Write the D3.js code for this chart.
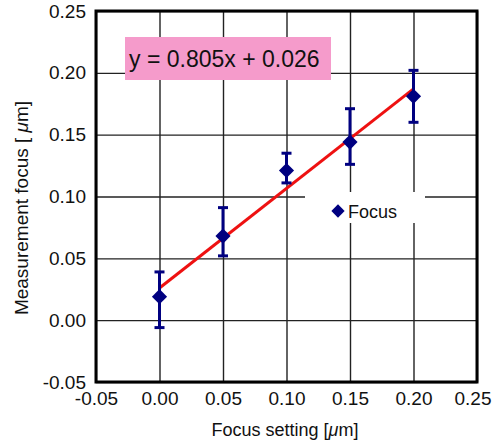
<!DOCTYPE html>
<html>
<head>
<meta charset="utf-8">
<script src="https://cdn.jsdelivr.net/npm/d3@7"></script>
<style>
  body { margin: 0; background: #fff; }
  text { font-family: "Liberation Sans", Arial, sans-serif; fill: #111; }
</style>
</head>
<body>
<svg id="chart" width="492" height="447"></svg>
<script>
// data
const focusSetting = [0.00, 0.05, 0.10, 0.15, 0.20];
const measured = [0.019, 0.068, 0.121, 0.144, 0.181];
const errTop = [0.039, 0.091, 0.135, 0.171, 0.202];
const errBottom = [-0.006, 0.052, 0.111, 0.126, 0.160];
const fitX = [0.00, 0.20];
const slope = 0.805, intercept = 0.026;
const tickValues = [-0.05, 0.00, 0.05, 0.10, 0.15, 0.20, 0.25];
const tickLabels = ['-0.05', '0.00', '0.05', '0.10', '0.15', '0.20', '0.25'];

const width = 492, height = 447;
const margins = {left: 96, right: 15, top: 11, bottom: 65};

const vis = d3.select('#chart');
vis.append('rect').attr('width', width).attr('height', height).attr('fill', '#fff');

const xScale = d3.scaleLinear()
  .domain([-0.05, 0.25])
  .range([margins.left, width - margins.right]);
const yScale = d3.scaleLinear()
  .domain([-0.05, 0.25])
  .range([height - margins.bottom, margins.top]);

const labelOf = v => tickLabels[tickValues.findIndex(t => Math.abs(t - v) < 1e-9)];
// diamond = square turned 45 degrees
const diamond = area => d3.symbol(d3.symbolSquare, area)();

// gridlines
vis.append('g')
  .attr('class', 'grid')
  .attr('transform', 'translate(0,' + (height - margins.bottom) + ')')
  .call(d3.axisBottom(xScale)
    .tickValues(tickValues)
    .tickSize(-(height - margins.bottom - margins.top))
    .tickFormat('')
    .tickSizeOuter(0));
vis.append('g')
  .attr('class', 'grid')
  .attr('transform', 'translate(' + margins.left + ',0)')
  .call(d3.axisLeft(yScale)
    .tickValues(tickValues)
    .tickSize(-(width - margins.left - margins.right))
    .tickFormat('')
    .tickSizeOuter(0));
vis.selectAll('.grid path').remove();
vis.selectAll('.grid line').attr('stroke', '#222').attr('stroke-width', 1.4);

// tick labels
const xAxis = vis.append('g')
  .attr('transform', 'translate(0,' + (height - margins.bottom) + ')')
  .call(d3.axisBottom(xScale).tickValues(tickValues).tickFormat(labelOf).tickSize(0).tickPadding(10));
const yAxis = vis.append('g')
  .attr('transform', 'translate(' + margins.left + ',0)')
  .call(d3.axisLeft(yScale).tickValues(tickValues).tickFormat(labelOf).tickSize(0).tickPadding(10));
[xAxis, yAxis].forEach(ax => {
  ax.select('.domain').remove();
  ax.selectAll('text').style('font-size', '19px').attr('fill', '#111')
    .style('font-family', '"Liberation Sans", Arial, sans-serif');
});
// last x label sits at the right edge of the page
xAxis.selectAll('.tick text').filter(d => Math.abs(d - 0.25) < 1e-9)
  .attr('text-anchor', 'end').attr('x', 14);

// equation box
vis.append('rect')
  .attr('x', 125).attr('y', 37).attr('width', 206).attr('height', 43)
  .attr('fill', '#f59bcb');
vis.append('text')
  .attr('x', 129).attr('y', 67)
  .style('font-size', '23px')
  .text('y = 0.805x + 0.026');

// legend box
const legend = vis.append('g');
legend.append('rect')
  .attr('x', 305).attr('y', 192).attr('width', 120).attr('height', 31)
  .attr('fill', '#fff');
legend.append('path')
  .attr('d', diamond(88))
  .attr('transform', 'translate(338,211) rotate(45)')
  .attr('fill', '#000080');
legend.append('text')
  .attr('x', 348).attr('y', 218)
  .style('font-size', '18px')
  .text('Focus');

// fit line
const lineGen = d3.line()
  .x(d => xScale(d))
  .y(d => yScale(slope * d + intercept));
vis.append('path')
  .attr('d', lineGen(fitX))
  .attr('stroke', '#ee1111')
  .attr('stroke-width', 3)
  .attr('fill', 'none');

// error bars
const bars = vis.append('g').attr('stroke', '#000080').attr('stroke-width', 3);
focusSetting.forEach((fx, i) => {
  const cx = xScale(fx);
  bars.append('line')
    .attr('x1', cx).attr('x2', cx)
    .attr('y1', yScale(errTop[i])).attr('y2', yScale(errBottom[i]));
  [errTop[i], errBottom[i]].forEach(v => {
    bars.append('line')
      .attr('x1', cx - 5).attr('x2', cx + 5)
      .attr('y1', yScale(v)).attr('y2', yScale(v));
  });
});

// points
vis.selectAll('.pt')
  .data(focusSetting)
  .enter()
  .append('path')
  .attr('class', 'pt')
  .attr('d', diamond(115))
  .attr('transform', (d, i) => 'translate(' + xScale(d) + ',' + yScale(measured[i]) + ') rotate(45)')
  .attr('fill', '#000080');

// frame
vis.append('rect')
  .attr('x', margins.left).attr('y', margins.top)
  .attr('width', width - margins.left - margins.right)
  .attr('height', height - margins.top - margins.bottom)
  .attr('fill', 'none')
  .attr('stroke', '#000')
  .attr('stroke-width', 3);

// axis labels
const xLabel = vis.append('text')
  .attr('x', 285)
  .attr('y', 436)
  .style('text-anchor', 'middle')
  .style('font-size', '18px');
xLabel.append('tspan').text('Focus setting [');
xLabel.append('tspan').style('font-style', 'italic').text('μ');
xLabel.append('tspan').text('m]');

const yLabel = vis.append('text')
  .attr('transform', 'translate(28,208) rotate(-90)')
  .style('text-anchor', 'middle')
  .style('font-size', '19px');
yLabel.append('tspan').text('Measurement focus [ ');
yLabel.append('tspan').style('font-style', 'italic').text('μ');
yLabel.append('tspan').text('m]');
</script>
</body>
</html>
